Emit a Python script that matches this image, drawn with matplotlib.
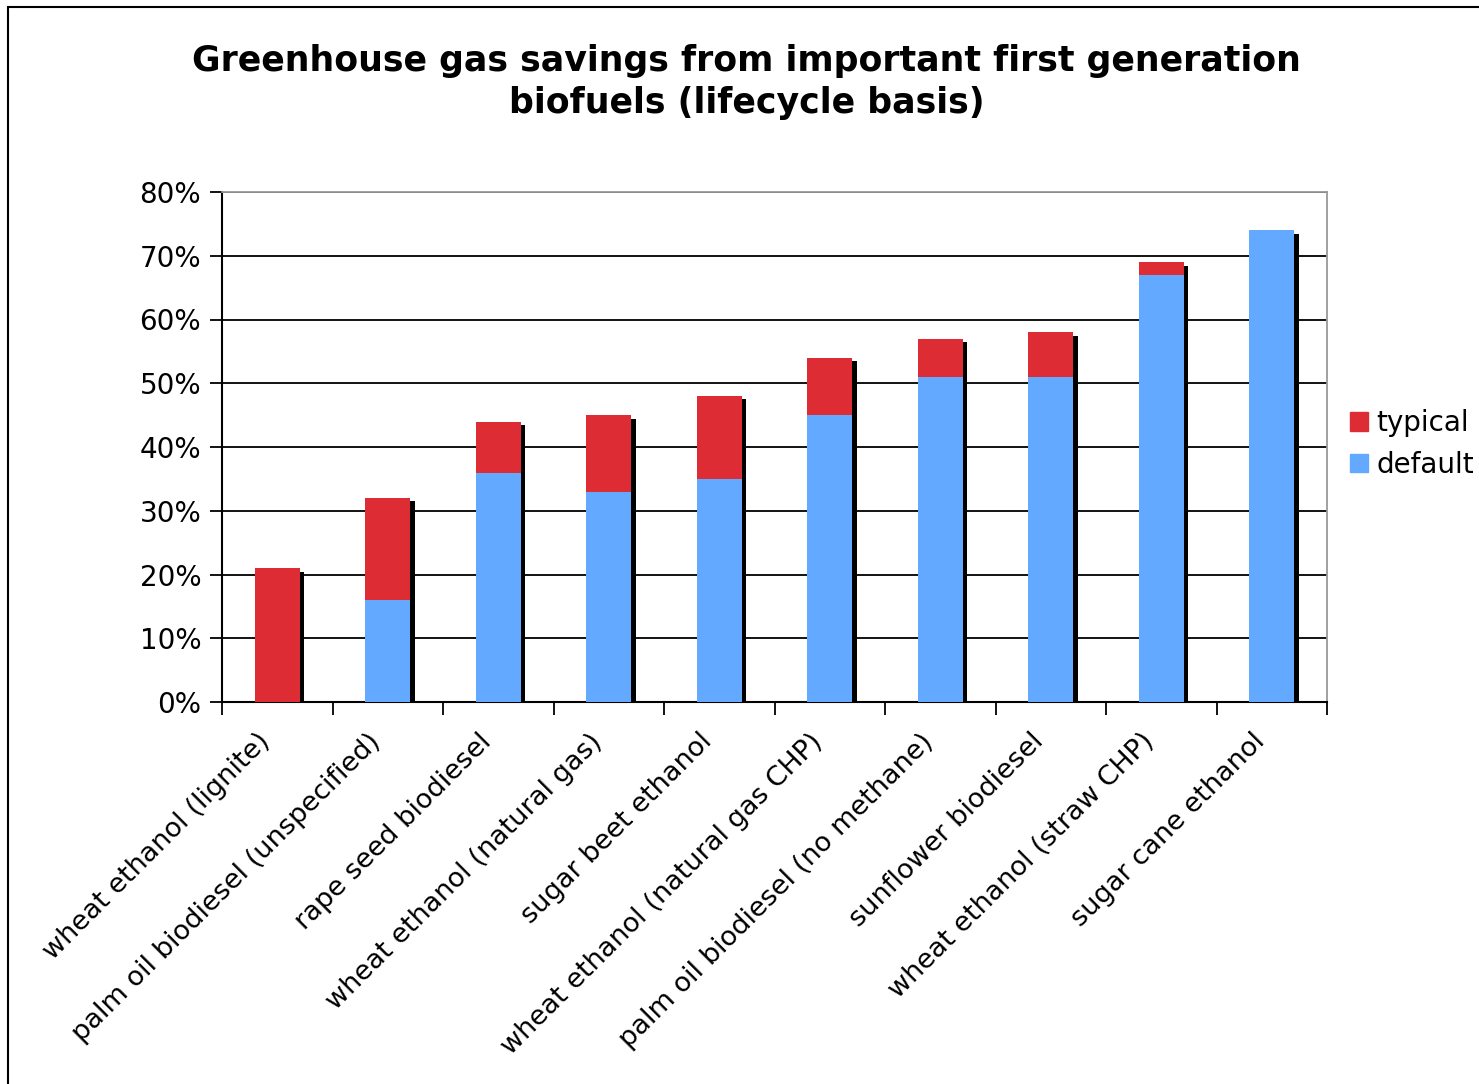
import numpy as np
import matplotlib.pyplot as plt
import matplotlib.patheffects as pe
import matplotlib.transforms as mtransforms
from matplotlib.patches import Rectangle, Patch

# values (percent)
fuels = ['wheat ethanol (lignite)', 'palm oil biodiesel (unspecified)', 'rape seed biodiesel',
         'wheat ethanol (natural gas)', 'sugar beet ethanol', 'wheat ethanol (natural gas CHP)',
         'palm oil biodiesel (no methane)', 'sunflower biodiesel', 'wheat ethanol (straw CHP)',
         'sugar cane ethanol']
typical = [21, 32, 44, 45, 48, 54, 57, 58, 69, 74]
default = [0, 16, 36, 33, 35, 45, 51, 51, 67, 74]

red = '#DE2C34'
blue = '#63A9FF'

plt.rcParams['font.family'] = 'DejaVu Sans'

fig = plt.figure(figsize=(14.79, 10.84), dpi=100)
ax = fig.add_axes([222 / 1479, 1 - 702 / 1084, 1105 / 1479, 510 / 1084])

x = np.arange(len(fuels))
shadow = [pe.SimplePatchShadow(offset=(3, -2.5), shadow_rgbFace='black', alpha=1.0), pe.Normal()]
ax.bar(x, typical, width=0.41, color=red, zorder=3, path_effects=shadow)
ax.bar(x, default, width=0.41, color=blue, zorder=4, path_effects=shadow)

ax.set_xlim(-0.5, len(fuels) - 0.5)
ax.set_ylim(0, 80)
ax.set_yticks(np.arange(0, 81, 10))
ax.set_yticklabels([f'{v}%' for v in range(0, 81, 10)], fontsize=20)
ax.yaxis.grid(True, color='black', linewidth=1.3, zorder=1)
ax.set_axisbelow(True)
ax.tick_params(axis='y', length=9, width=1.3, pad=6)

ax.set_xticks(x)
ax.set_xticklabels(fuels, fontsize=19.5, rotation=45, ha='right', rotation_mode='anchor')
ax.set_xticks(np.arange(-0.5, len(fuels), 1), minor=True)
ax.tick_params(axis='x', which='major', length=0, pad=12)
ax.tick_params(axis='x', which='minor', length=9, width=1.3)
# nudge the slanted labels down-left like the original
shift = mtransforms.ScaledTranslation(-20 / 100, -10 / 100, fig.dpi_scale_trans)
for lab in ax.get_xticklabels():
    lab.set_transform(lab.get_transform() + shift)

for s in ['left', 'bottom']:
    ax.spines[s].set_linewidth(1.5)
for s in ['top', 'right']:
    ax.spines[s].set_color('#999999')
    ax.spines[s].set_linewidth(1.3)

fig.text(0.505, 1 - 82 / 1084, 'Greenhouse gas savings from important first generation\nbiofuels (lifecycle basis)',
         ha='center', va='center', fontsize=25, fontweight='bold', linespacing=1.3)

handles = [Patch(color=red, label='typical'), Patch(color=blue, label='default')]
fig.legend(handles=handles, loc='center left', bbox_to_anchor=(1350 / 1479, 1 - 444 / 1084),
           frameon=False, fontsize=20, handlelength=0.65, handleheight=0.65, handletextpad=0.3,
           labelspacing=0.5, borderpad=0, borderaxespad=0)

# outer chart border, cut off at right and bottom
fig.add_artist(Rectangle((8 / 1479, -0.1), 1.2, 1.1 - 7 / 1084, transform=fig.transFigure,
                         fill=False, edgecolor='black', linewidth=1.5))

fig.savefig('out.png', dpi=100)
